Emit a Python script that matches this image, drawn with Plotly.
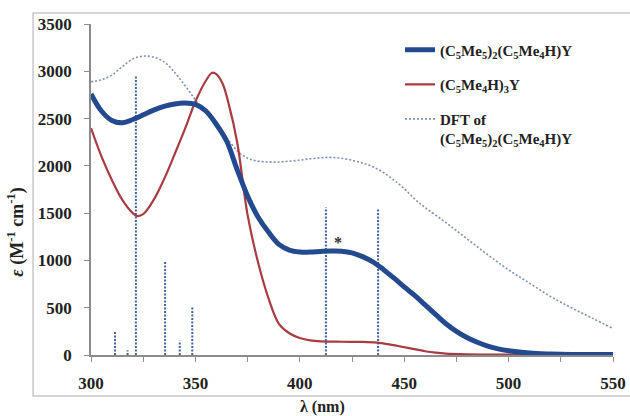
import plotly.graph_objects as go

# Experimental (C5Me5)2(C5Me4H)Y
wl_a = [300, 305, 310, 315, 320, 325, 330, 335, 340, 345, 350, 355, 360, 365, 370, 375, 380, 385, 390, 395,
        400, 405, 410, 415, 420, 425, 430, 435, 440, 445, 450, 455, 460, 465, 470, 475, 480, 485, 490, 495,
        500, 510, 520, 530, 550]
eps_a = [2760, 2580, 2480, 2455, 2490, 2540, 2590, 2630, 2655, 2665, 2650, 2580, 2440, 2260, 1960, 1680, 1460, 1300, 1170, 1110,
         1090, 1088, 1095, 1100, 1098, 1080, 1040, 985, 905, 815, 720, 630, 530, 430, 330, 250, 185, 135, 95, 65,
         45, 20, 10, 5, 5]

# Experimental (C5Me4H)3Y
wl_b = [300, 305, 310, 315, 320, 322, 325, 330, 335, 340, 345, 350, 355, 358, 360, 363, 366, 370, 375, 380,
        385, 390, 395, 400, 405, 410, 420, 430, 437, 442, 447, 453, 460, 465, 470, 480, 500, 550]
eps_b = [2400, 2100, 1850, 1640, 1500, 1470, 1490, 1640, 1860, 2120, 2390, 2680, 2900, 2985, 2970, 2870, 2650, 2250, 1480, 980,
         600, 330, 230, 180, 155, 145, 140, 138, 130, 115, 95, 70, 40, 25, 15, 8, 5, 5]

# DFT of (C5Me5)2(C5Me4H)Y
wl_c = [300, 305, 310, 315, 320, 325, 330, 335, 340, 345, 350, 355, 360, 365, 370, 375, 380, 385, 390, 395,
        400, 405, 410, 415, 420, 425, 430, 435, 440, 445, 450, 455, 460, 470, 480, 490, 500, 510, 520, 530, 540, 550]
eps_c = [2890, 2910, 2960, 3050, 3130, 3160, 3150, 3100, 2990, 2850, 2700, 2560, 2440, 2300, 2160, 2080, 2050, 2040, 2040, 2050,
         2060, 2075, 2085, 2090, 2080, 2060, 2030, 1990, 1930, 1850, 1760, 1650, 1560, 1400, 1230, 1060, 900, 760, 620, 500, 390, 280]

# DFT transitions (sticks)
stick_wl = [311.5, 317.5, 321.5, 335.5, 342.5, 348.5, 412.5, 437.5]
stick_eps = [255, 50, 2960, 990, 150, 510, 1560, 1540]

xticks = [300, 350, 400, 450, 500, 550]
yticks = [0, 500, 1000, 1500, 2000, 2500, 3000, 3500]

FONT = "Liberation Serif"
navy = "#234A8E"
red = "#A93B42"
dft = "#7D8FB5"
stick_col = "#3F62A0"
axis_col = "#8C8C8C"

sx, sy = [], []
for w, e in zip(stick_wl, stick_eps):
    sx += [w, w, None]
    sy += [0, e, None]

fig = go.Figure()
fig.add_trace(go.Scatter(x=sx, y=sy, mode="lines", showlegend=False,
                         line=dict(color=stick_col, width=2, dash="2px,1.5px"), hoverinfo="skip"))
fig.add_trace(go.Scatter(x=wl_c, y=eps_c, mode="lines", line_shape="spline",
                         name="DFT of<br>(C<sub>5</sub>Me<sub>5</sub>)<sub>2</sub>(C<sub>5</sub>Me<sub>4</sub>H)Y",
                         legendrank=3, legendgroup="c",
                         line=dict(color=dft, width=1.6, dash="2px,2px")))
fig.add_trace(go.Scatter(x=wl_b, y=eps_b, mode="lines", line_shape="spline",
                         name="(C<sub>5</sub>Me<sub>4</sub>H)<sub>3</sub>Y", legendrank=2, legendgroup="b",
                         line=dict(color=red, width=2.2)))
fig.add_trace(go.Scatter(x=wl_a, y=eps_a, mode="lines", line_shape="spline",
                         name="(C<sub>5</sub>Me<sub>5</sub>)<sub>2</sub>(C<sub>5</sub>Me<sub>4</sub>H)Y", legendrank=1,
                         legendgroup="a",
                         line=dict(color=navy, width=5)))

fig.add_annotation(x=418.5, y=1190, text="*", showarrow=False, xref="x", yref="y",
                   font=dict(family=FONT, size=16, color="#333333", weight="bold"))

# axis titles (placed outside the chart frame, as in the reference)
fig.add_annotation(x=0.444, y=-0.157, xref="paper", yref="paper", showarrow=False,
                   text="λ (nm)", xanchor="center", yanchor="middle",
                   font=dict(family=FONT, size=16, color="#222222", weight="bold"))
fig.add_annotation(x=-0.144, y=0.372, xref="paper", yref="paper", showarrow=False, textangle=-90,
                   text="<i>ε</i> (M<sup>-1</sup> cm<sup>-1</sup>)", xanchor="center", yanchor="middle",
                   font=dict(family=FONT, size=18, color="#222222", weight="bold"))

# outer chart frame
fig.add_shape(type="rect", xref="paper", yref="paper", x0=-0.111, x1=1.04, y0=-0.124, y1=1.033,
              line=dict(color="#C8C8C8", width=1.5), fillcolor="rgba(0,0,0,0)", layer="below")

fig.update_layout(
    width=630, height=416,
    margin=dict(l=91, r=17, t=24, b=61),
    paper_bgcolor="white", plot_bgcolor="white",
    font=dict(family=FONT, size=15, color="#222222", weight="bold"),
    legend=dict(x=0.592, y=0.971, xanchor="left", yanchor="top", bgcolor="rgba(0,0,0,0)",
                font=dict(family=FONT, size=15, color="#222222", weight="bold"),
                tracegroupgap=12, valign="top", traceorder="grouped"),
    xaxis=dict(range=[300, 550], tickvals=xticks, ticks="outside", ticklen=5, tickcolor=axis_col,
               showline=True, linecolor=axis_col, linewidth=1.5, showgrid=False, zeroline=False,
               automargin=False, ticklabelstandoff=7,
               minor=dict(dtick=25, ticks="outside", ticklen=5, tickcolor=axis_col),
               tickfont=dict(family=FONT, size=17, weight="bold", color="#222222")),
    yaxis=dict(range=[0, 3500], tickvals=yticks, ticks="outside", ticklen=5, tickcolor=axis_col,
               showline=True, linecolor=axis_col, linewidth=1.5, showgrid=False, zeroline=False,
               automargin=False, ticklabelstandoff=9,
               tickfont=dict(family=FONT, size=17, weight="bold", color="#222222")),
)

fig.write_html("out.html", config={"displayModeBar": False},
               post_script="document.body.style.margin='0';document.body.style.overflow='hidden';")
